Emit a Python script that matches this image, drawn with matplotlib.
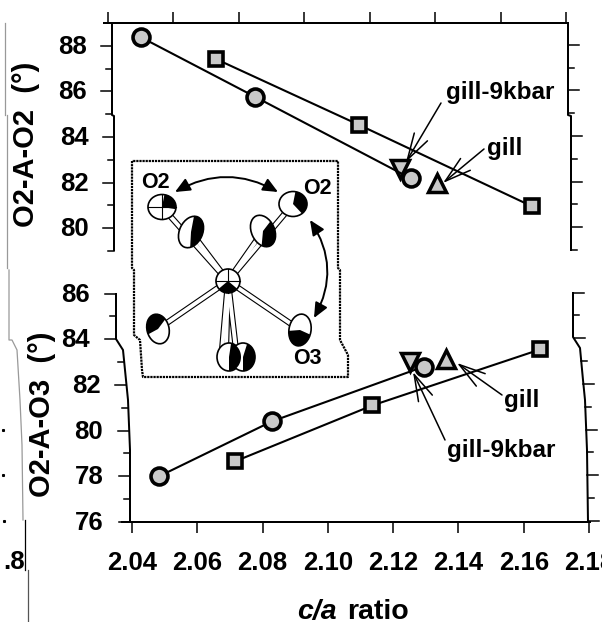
import matplotlib
matplotlib.use('Agg')
import matplotlib.pyplot as plt
from matplotlib.patches import Ellipse, Polygon
import numpy as np

plt.rcParams['font.family'] = ['Liberation Sans', 'DejaVu Sans']
plt.rcParams['font.weight'] = 'bold'

W = 602
H = 622

# top panel, O2-A-O2
top_circle_x = [2.050, 2.085, 2.1326]
top_circle_y = [88.38, 85.76, 82.18]
top_square_x = [2.073, 2.1166, 2.1696]
top_square_y = [87.42, 84.54, 80.96]
top_down_x = [2.1293]
top_down_y = [82.58]
top_up_x = [2.1405]
top_up_y = [82.00]

# bottom panel, O2-A-O3
bot_circle_x = [2.0483, 2.0828, 2.1294]
bot_circle_y = [78.0, 80.4, 82.8]
bot_square_x = [2.0715, 2.1136, 2.1650]
bot_square_y = [78.65, 81.1, 83.55]
bot_down_x = [2.1252]
bot_down_y = [83.0]
bot_up_x = [2.1363]
bot_up_y = [83.15]

x_ticks = [2.04, 2.06, 2.08, 2.10, 2.12, 2.14, 2.16, 2.18]
top_yticks = [88, 86, 84, 82, 80]
top_yminor = [87, 85, 83, 81, 79]
bot_yticks = [86, 84, 82, 80, 78, 76]
bot_yminor = [85, 83, 81, 79, 77]

GRAY = '#c9c9c9'
TICK = 11 * 0.72
LW = 2.0 * 0.72

fig = plt.figure(figsize=(W / 100, H / 100), dpi=100)


def box(left, right, top, bottom):
    return [left / W, 1 - bottom / H, (right - left) / W, (bottom - top) / H]


ax1 = fig.add_axes(box(108, 566, 23, 251))
ax2 = fig.add_axes(box(132, 589, 293.5, 522))
ov = fig.add_axes([0, 0, 1, 1])
ov.set_xlim(0, W)
ov.set_ylim(H, 0)
ov.axis('off')
ov.patch.set_alpha(0)


def draw_series(ax, cx, cy, sx, sy, dx, dy, ux, uy):
    ax.plot(dx, dy, 'v', ms=12.5, mfc=GRAY, mec='k', mew=2.5, clip_on=False)
    ax.plot(ux, uy, '^', ms=12.5, mfc=GRAY, mec='k', mew=2.5, clip_on=False)
    ax.plot(cx, cy, '-', color='k', lw=1.5, marker='o', ms=12.2, mfc=GRAY, mec='k', mew=2.6, clip_on=False)
    ax.plot(sx, sy, '-', color='k', lw=1.5, marker='s', ms=10.6, mfc=GRAY, mec='k', mew=2.6, clip_on=False)


draw_series(ax1, top_circle_x, top_circle_y, top_square_x, top_square_y,
            top_down_x, top_down_y, top_up_x, top_up_y)
draw_series(ax2, bot_circle_x, bot_circle_y, bot_square_x, bot_square_y,
            bot_down_x, bot_down_y, bot_up_x, bot_up_y)

for ax in (ax1, ax2):
    ax.set_xlim(2.04, 2.18)
    ax.set_xticks(x_ticks)
    ax.set_yticks([])
    ax.patch.set_alpha(0)
    for s in ax.spines.values():
        s.set_visible(False)

ax1.set_ylim(79, 89)
ax1.xaxis.tick_top()
ax1.tick_params(axis='x', length=TICK, width=1.1, labeltop=False)

ax2.set_ylim(76, 86)
ax2.set_xticklabels(['%.2f' % v for v in x_ticks], fontsize=18.5)
ax2.tick_params(axis='x', length=TICK, width=1.1, pad=13)


def py(ax, v):
    return H - ax.transData.transform((2.1, v))[1]


def side(ax, majors, minors, left_y, left_x, right_y, right_x, label_dx):
    # scanned frame is not straight, so the sides follow the page
    ov.plot(left_x, left_y, color='k', lw=LW, solid_capstyle='butt')
    ov.plot(right_x, right_y, color='k', lw=LW, solid_capstyle='butt')
    for v, ln in [(m, 11) for m in majors] + [(m, 6) for m in minors]:
        y = py(ax, v)
        xl = np.interp(y, left_y, left_x)
        xr = np.interp(y, right_y, right_x)
        ov.plot([xl - ln, xl], [y, y], color='k', lw=1.1)
        ov.plot([xr, xr + ln], [y - 1, y - 1], color='k', lw=1.1)
    for v in majors:
        y = py(ax, v)
        xl = np.interp(y, left_y, left_x)
        ov.text(xl + label_dx, y + 1, str(v), ha='right', va='center', fontsize=18.5)


side(ax1, top_yticks, top_yminor,
     [23, 115, 116, 251], [112, 112, 114, 114],
     [23, 115, 116, 251], [568, 568, 571, 571], -25)
side(ax2, bot_yticks, bot_yminor,
     [293, 339, 350, 380, 400, 450, 522], [116, 116, 123, 126, 128, 130, 130],
     [292, 337, 348, 380, 400, 450, 522], [573, 573, 580, 583, 585, 587, 588], -26)

# long horizontal edges
ov.plot([104, 568], [23, 23], color='k', lw=LW)
ov.plot([122, 590], [522, 522], color='k', lw=LW)

# axis titles
ov.text(26, 144, 'O2-A-O2  (°)', rotation=90, ha='center', va='center', fontsize=21)
ov.text(42, 414, 'O2-A-O3  (°)', rotation=90, ha='center', va='center', fontsize=21)
ov.text(337, 612, 'c/a', style='italic', ha='right', va='center', fontsize=20.5)
ov.text(347, 612, 'ratio', ha='left', va='center', fontsize=20.5)

# leftovers from the scanned page
ov.text(3, 562, '.8', ha='left', va='center', fontsize=18.5)
ov.plot([5, 5], [23, 115], color='#999999', lw=0.9)
ov.plot([7, 7], [115, 268], color='#999999', lw=0.9)
ov.plot([9, 9, 12, 17, 20, 22, 23], [270, 340, 340, 350, 400, 445, 520], color='#999999', lw=0.9)
ov.plot([25, 25], [520, 570], color='k', lw=0.9)
ov.plot([28, 28], [570, 622], color='#555555', lw=0.9)
ov.plot([3, 3, 4], [430, 475, 521], ls='none', marker='s', ms=1.2, color='k')


# labels with open arrows
def note(text, tx, ty, start, tip):
    ov.text(tx, ty, text, ha='center', va='center', fontsize=17.5)
    ov.annotate('', xy=tip, xytext=start,
                arrowprops=dict(arrowstyle='->,head_length=1.9,head_width=0.55',
                                lw=1.1, color='k', shrinkA=0, shrinkB=0, mutation_scale=10))


note('gill-9kbar', 500, 93, (441, 103), (406, 162))
note('gill', 505, 149, (484, 149), (443, 183))
note('gill', 522, 401, (502, 395), (457, 363))
note('gill-9kbar', 501, 450, (445, 440), (413, 372))

# inset: dotted outline
inset_x = [132, 132, 134, 134, 140, 142, 143, 348, 348, 340, 340, 338, 338, 132]
inset_y = [161, 268, 270, 335, 340, 370, 377, 377, 355, 340, 270, 268, 161, 161]
ov.plot(inset_x, inset_y, color='k', lw=1.6, ls=(0, (1, 0.4)))


def half(x, y, w, h, angle, t1, t2):
    t = np.radians(np.linspace(t1, t2, 30))
    a = np.radians(angle)
    ex = w / 2 * np.cos(t)
    ey = h / 2 * np.sin(t)
    xs = x + ex * np.cos(a) - ey * np.sin(a)
    ys = y + ex * np.sin(a) + ey * np.cos(a)
    ov.add_patch(Polygon(np.column_stack([np.r_[x, xs], np.r_[y, ys]]), fc='k', ec='none', zorder=6))


def atom(x, y, w, h, angle, t1, t2):
    ov.add_patch(Ellipse((x, y), w, h, angle=angle, fc='w', ec='k', lw=1.2, zorder=5))
    half(x, y, w, h, angle, t1, t2)


center = (228, 281)
ends = [(162, 207), (293, 204), (191, 232), (263, 231), (158, 329), (300, 330), (226, 350), (236, 350), (222, 350)]
for ex, ey in ends:
    ov.plot([center[0], ex], [center[1], ey], color='k', lw=4.4, solid_capstyle='butt', zorder=3)
    ov.plot([center[0], ex], [center[1], ey], color='w', lw=2.8, solid_capstyle='butt', zorder=4)

atom(191, 232, 23, 33, 25, -110, 60)
atom(263, 231, 23, 33, -25, -20, 130)
atom(162, 207, 28, 25, 0, -80, 10)
atom(293, 204, 28, 25, 0, -80, 50)
atom(158, 329, 22, 30, -15, 170, 330)
atom(300, 330, 22, 32, 10, 10, 170)
atom(229, 357, 24, 28, 0, -80, 90)
atom(243, 357, 24, 28, 0, -70, 90)
ov.plot([148, 176], [207, 207], color='k', lw=0.8, zorder=7)
ov.plot([162, 162], [195, 219], color='k', lw=0.8, zorder=7)
atom(228, 281, 24, 24, 0, 40, 140)
ov.plot([216, 240], [281, 281], color='k', lw=0.8, zorder=7)
ov.plot([228, 228], [269, 293], color='k', lw=0.8, zorder=7)

ov.text(155, 182, 'O2', ha='center', va='center', fontsize=15.5)
ov.text(317, 188, 'O2', ha='center', va='center', fontsize=15.5)
ov.text(307, 358, 'O3', ha='center', va='center', fontsize=15.5)

arc = dict(arrowstyle='<|-|>,head_length=0.9,head_width=0.4', color='k', lw=1.4,
           shrinkA=0, shrinkB=0, mutation_scale=10)
ov.annotate('', xy=(175, 192), xytext=(278, 192), arrowprops=dict(connectionstyle='arc3,rad=0.28', **arc))
ov.annotate('', xy=(310, 220), xytext=(314, 318), arrowprops=dict(connectionstyle='arc3,rad=0.3', **arc))

fig.savefig('out.png', dpi=100)
